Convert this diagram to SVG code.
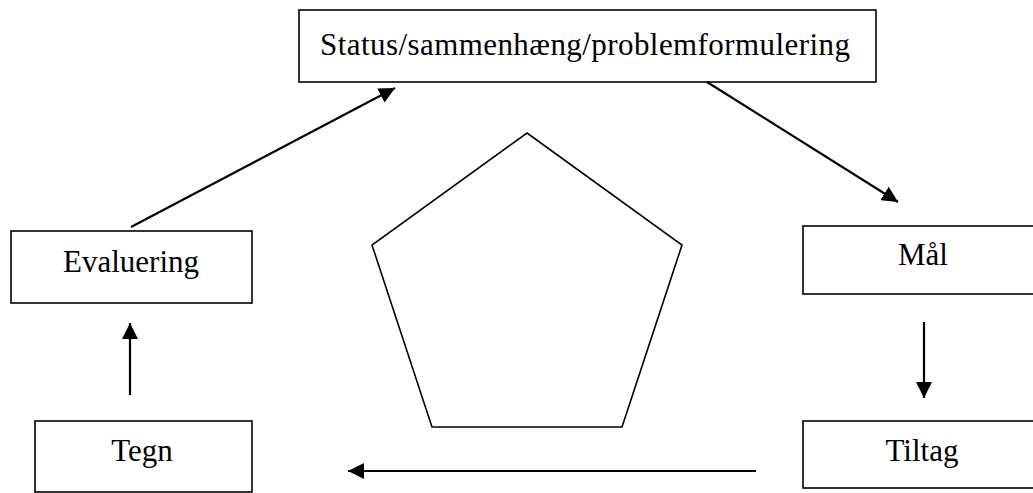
<svg xmlns="http://www.w3.org/2000/svg" width="1033" height="493" viewBox="0 0 1033 493">
<style>
.box{fill:#fff;stroke:#000;stroke-width:1.6}
.lbl{font-family:"Liberation Serif","Times New Roman",serif;font-size:31px;fill:#000}
.arr{stroke:#000;stroke-width:2.2;fill:none;marker-end:url(#ah)}
</style>
<defs>
<marker id="ah" markerUnits="userSpaceOnUse" markerWidth="16" markerHeight="16" refX="15" refY="7.5" orient="auto" viewBox="0 0 15 15">
<path d="M0,0 L15,7.5 L0,15 z" fill="#000"/>
</marker>
</defs>
<rect width="1033" height="493" fill="#fff"/>
<g id="status"><rect class="box" x="299" y="10" width="577" height="72"/><text class="lbl" x="320" y="55" textLength="530" lengthAdjust="spacing">Status/sammenhæng/problemformulering</text></g>
<g id="maal"><rect class="box" x="803" y="226" width="235" height="68"/><text class="lbl" x="923" y="265" text-anchor="middle">Mål</text></g>
<g id="tiltag"><rect class="box" x="803" y="421" width="235" height="67"/><text class="lbl" x="922" y="461" text-anchor="middle">Tiltag</text></g>
<g id="tegn"><rect class="box" x="35" y="421" width="217" height="71"/><text class="lbl" x="142" y="461" text-anchor="middle">Tegn</text></g>
<g id="evaluering"><rect class="box" x="11" y="231" width="241" height="72"/><text class="lbl" x="131" y="272" text-anchor="middle">Evaluering</text></g>
<g id="pentagon"><polygon points="527,133 682,245 622,427 432,427 372,245" fill="none" stroke="#000" stroke-width="1.6"/></g>
<g id="connectors">
<line class="arr" x1="131" y1="227" x2="395" y2="88"/>
<line class="arr" x1="707" y1="82" x2="898" y2="202"/>
<line class="arr" x1="924" y1="322" x2="924" y2="398"/>
<line class="arr" x1="756" y1="471" x2="348" y2="471"/>
<line class="arr" x1="130" y1="395" x2="130" y2="323"/>
</g>
</svg>
